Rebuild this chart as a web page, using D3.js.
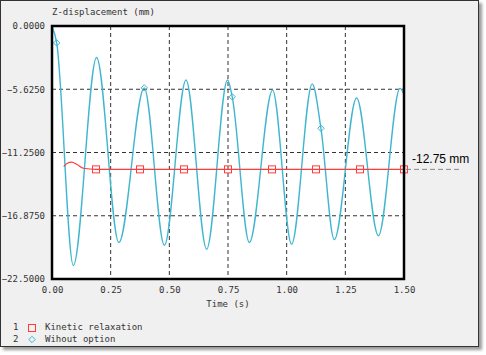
<!DOCTYPE html>
<html>
<head>
<meta charset="utf-8">
<script src="https://cdn.jsdelivr.net/npm/d3@7"></script>
<style>
  html, body { margin: 0; padding: 0; background: #fff; }
  svg { display: block; }
</style>
</head>
<body>
<div id="graph"></div>
<script>
const w = 486;
const h = 355;

// plot box inside the gray panel
const margin = { left: 52, right: 82, top: 26, bottom: 76 };
const width = w - margin.left - margin.right;
const height = h - margin.top - margin.bottom;

// data
const xTicks = [0, 0.25, 0.5, 0.75, 1.0, 1.25, 1.5];
const yTicks = [0, -5.625, -11.25, -16.875, -22.5];

// "Wihout option" curve (turning points + start/end)
const cyanT = [0, 0.02, 0.091, 0.19, 0.285, 0.393, 0.479, 0.571, 0.659, 0.748, 0.768, 0.841, 0.94, 1.021, 1.109, 1.146, 1.203, 1.298, 1.391, 1.483, 1.5];
const cyanV = [0, -1.5, -21.3, -2.8, -19.25, -5.5, -19.5, -4.8, -19.85, -4.8, -6.3, -19.25, -5.7, -19.4, -5.15, -9.1, -19.0, -6.4, -18.65, -5.55, -6.1];
const cyanMarkT = [0.02, 0.393, 0.768, 1.146];
const cyanMarkV = [-1.5, -5.5, -6.3, -9.1];

// "Kinetic relaxation" curve
const redT = [0.05, 0.065, 0.084, 0.105, 0.134, 0.1875, 0.375, 0.5625, 0.75, 0.9375, 1.125, 1.3125, 1.5];
const redV = [-12.5, -12.2, -12.1, -12.3, -12.65, -12.75, -12.75, -12.75, -12.75, -12.75, -12.75, -12.75, -12.75];
const redMarkT = [0.1875, 0.375, 0.5625, 0.75, 0.9375, 1.125, 1.3125, 1.5];
const redMarkV = [-12.75, -12.75, -12.75, -12.75, -12.75, -12.75, -12.75, -12.75];

const annotValue = -12.75;
const legendNames = ["Kinetic relaxation", "Wihout option"];

const cyan = "#3fb6cf";
const red = "#ff3b3b";
const mono = "'DejaVu Sans Mono', monospace";

const svg = d3.select("#graph")
    .append("svg")
    .attr("width", w)
    .attr("height", h);

// panel with a soft shadow
const defs = svg.append("defs");
defs.append("filter").attr("id", "blur")
    .append("feGaussianBlur").attr("stdDeviation", 1.5);
svg.append("rect")
    .attr("x", 3).attr("y", 3)
    .attr("width", 479).attr("height", 347)
    .attr("filter", "url(#blur)")
    .style("fill", "#9a9a9a");
svg.append("rect")
    .attr("x", 0.5).attr("y", 0.5)
    .attr("width", 478).attr("height", 346)
    .style("fill", "#f0f0f0")
    .style("stroke", "#333");

const x = d3.scaleLinear().domain([0, 1.5]).range([margin.left, margin.left + width]);
const y = d3.scaleLinear().domain([-22.5, 0]).range([margin.top + height, margin.top]);

svg.append("rect")
    .attr("x", x(0)).attr("y", y(0))
    .attr("width", x(1.5) - x(0)).attr("height", y(-22.5) - y(0))
    .style("fill", "#fff");

// grid
const g = svg.append("g");
g.selectAll(".vgrid")
    .data(xTicks.slice(1, -1))
    .enter()
    .append("line")
    .attr("x1", d => x(d)).attr("x2", d => x(d))
    .attr("y1", y(0)).attr("y2", y(-22.5))
    .style("stroke", "#333")
    .style("stroke-dasharray", "4,3");
g.selectAll(".hgrid")
    .data(yTicks.slice(1, -1))
    .enter()
    .append("line")
    .attr("x1", x(0)).attr("x2", x(1.5))
    .attr("y1", d => y(d)).attr("y2", d => y(d))
    .style("stroke", "#333")
    .style("stroke-dasharray", "4,3");

// axes (labels only, no tick lines)
const xAxis = svg.append("g")
    .attr("transform", "translate(0," + (y(-22.5) + 5) + ")")
    .call(d3.axisBottom(x).tickValues(xTicks).tickFormat(d3.format(".2f")).tickSize(0));
const yAxis = svg.append("g")
    .attr("transform", "translate(" + (x(0) - 4) + ",0)")
    .call(d3.axisLeft(y).tickValues(yTicks).tickFormat(d3.format(".4f")).tickSize(0));
[xAxis, yAxis].forEach(a => {
    a.select(".domain").remove();
    a.selectAll("text")
        .style("font-family", mono)
        .style("font-size", "9px")
        .style("fill", "#333");
});
yAxis.selectAll("text").attr("dx", "0");

svg.append("text")
    .attr("x", x(0.75)).attr("y", 307)
    .attr("text-anchor", "middle")
    .style("font-family", mono).style("font-size", "9px").style("fill", "#333")
    .text("Time (s)");
svg.append("text")
    .attr("x", 52).attr("y", 15)
    .style("font-family", mono).style("font-size", "9px").style("fill", "#333")
    .text("Z-displacement (mm)");

// series
svg.append("clipPath").attr("id", "clip")
    .append("rect")
    .attr("x", x(0)).attr("y", y(0))
    .attr("width", x(1.5) - x(0)).attr("height", y(-22.5) - y(0));

const line = d3.line()
    .x(d => x(d[0]))
    .y(d => y(d[1]))
    .curve(d3.curveMonotoneX);

svg.append("path")
    .datum(d3.zip(cyanT, cyanV))
    .attr("clip-path", "url(#clip)")
    .attr("d", line)
    .style("fill", "none")
    .style("stroke", cyan)
    .style("stroke-width", 1.4);

svg.append("path")
    .datum(d3.zip(redT, redV))
    .attr("d", line)
    .style("fill", "none")
    .style("stroke", red)
    .style("stroke-width", 1.2);

svg.selectAll(".redmark")
    .data(d3.zip(redMarkT, redMarkV))
    .enter()
    .append("rect")
    .attr("x", d => x(d[0]) - 3.5)
    .attr("y", d => y(d[1]) - 3.5)
    .attr("width", 7).attr("height", 7)
    .style("fill", "none")
    .style("stroke", red);

const diamond = d3.symbol().type(d3.symbolDiamond2).size(26);
svg.selectAll(".cyanmark")
    .data(d3.zip(cyanMarkT, cyanMarkV))
    .enter()
    .append("path")
    .attr("transform", d => "translate(" + x(d[0]) + "," + y(d[1]) + ")")
    .attr("d", diamond)
    .style("fill", "none")
    .style("stroke", cyan);

// frame
svg.append("rect")
    .attr("x", x(0)).attr("y", y(0))
    .attr("width", x(1.5) - x(0)).attr("height", y(-22.5) - y(0))
    .style("fill", "none")
    .style("stroke", "#000")
    .style("stroke-width", 2.5);

// annotation
svg.append("line")
    .attr("x1", x(1.5) + 2).attr("x2", 462)
    .attr("y1", y(annotValue)).attr("y2", y(annotValue))
    .style("stroke", "#888")
    .style("stroke-dasharray", "5,3");
svg.append("text")
    .attr("x", 412).attr("y", y(annotValue) - 6)
    .style("font-family", "'Liberation Sans', Arial, sans-serif")
    .style("font-size", "12px")
    .style("fill", "#000")
    .text(annotValue + " mm");

// legend
const legend = svg.selectAll(".legend")
    .data(legendNames)
    .enter()
    .append("g")
    .attr("transform", (d, i) => "translate(0," + (327 + i * 11.5) + ")");
legend.append("text")
    .attr("x", 13).attr("y", 3)
    .style("font-family", mono).style("font-size", "9px").style("fill", "#333")
    .text((d, i) => i + 1);
legend.append("text")
    .attr("x", 45).attr("y", 3)
    .style("font-family", mono).style("font-size", "9px").style("fill", "#333")
    .text(d => d);
legend.filter((d, i) => i === 0)
    .append("rect")
    .attr("x", 28.5).attr("y", -2.5)
    .attr("width", 7).attr("height", 7)
    .style("fill", "none")
    .style("stroke", red);
legend.filter((d, i) => i === 1)
    .append("path")
    .attr("transform", "translate(32,1)")
    .attr("d", diamond)
    .style("fill", "none")
    .style("stroke", cyan);
</script>
</body>
</html>
